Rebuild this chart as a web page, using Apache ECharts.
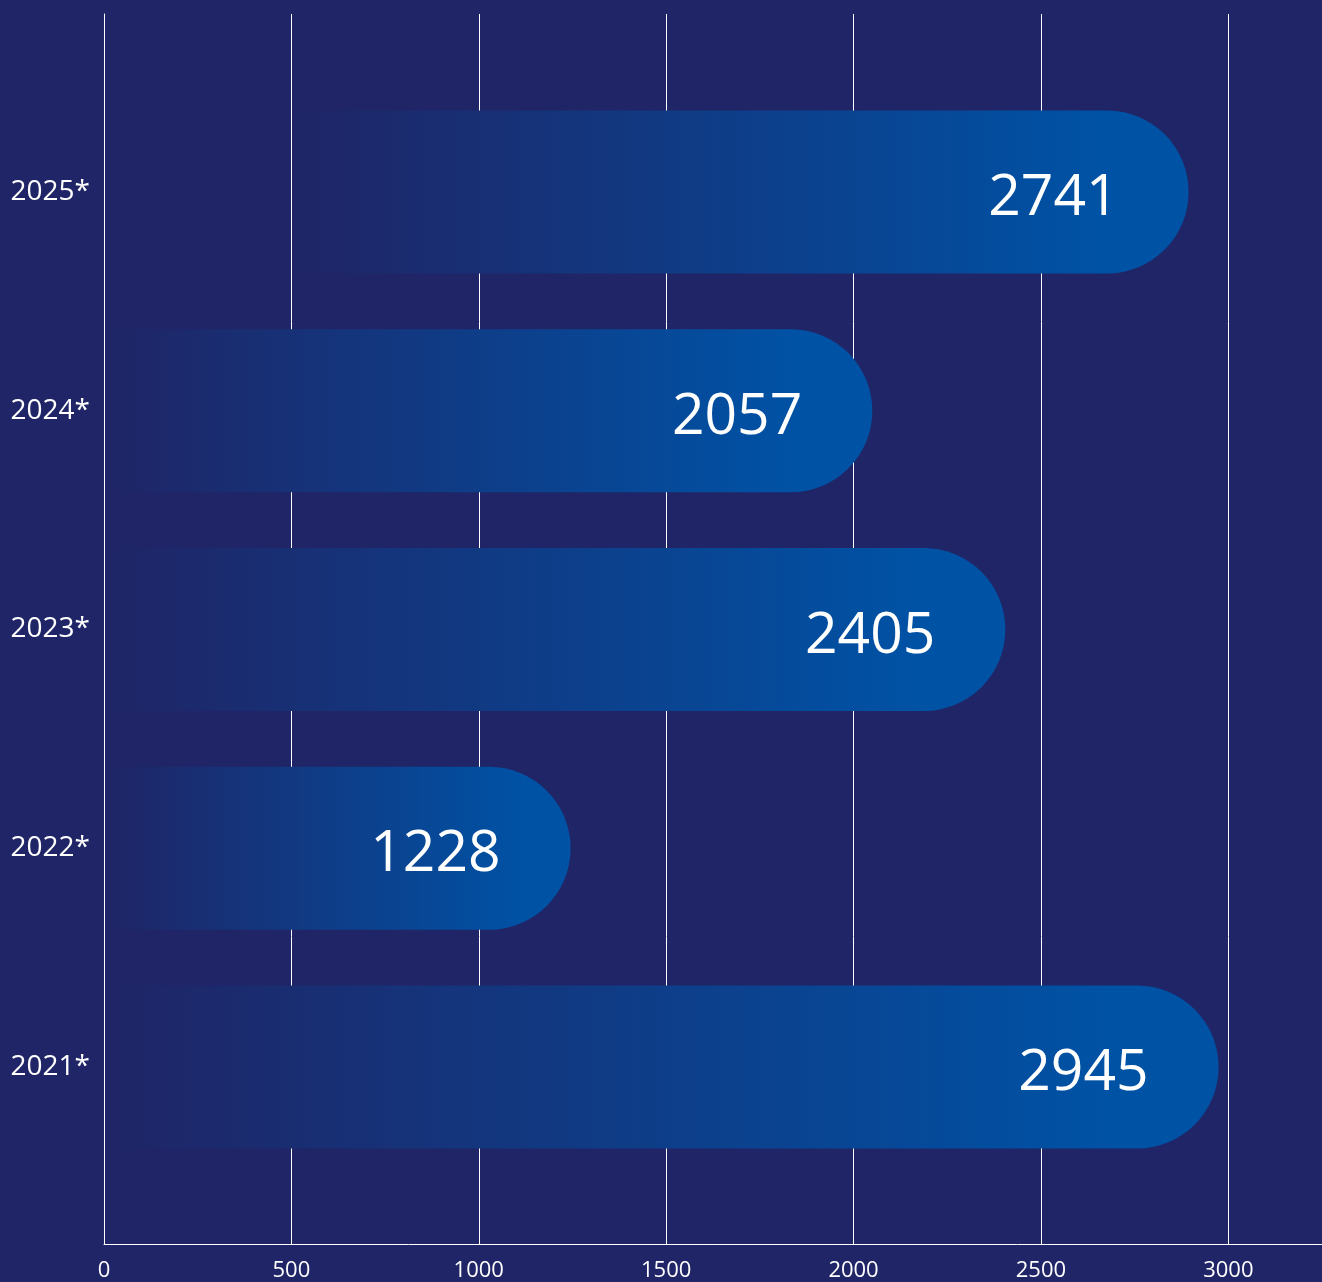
<!DOCTYPE html>
<html>
<head>
<meta charset="utf-8">
<script src="https://cdn.jsdelivr.net/npm/echarts@6/dist/echarts.min.js"></script>
<style>
html,body{margin:0;padding:0;background:#1f2566;}
#chart{width:1322px;height:1282px;}
</style>
</head>
<body>
<div id="chart"></div>
<script>
// Categories, bottom to top
var categories = ['2021*', '2022*', '2023*', '2024*', '2025*'];
// Values printed on the bars
var labelValues = [2945, 1228, 2405, 2057, 2741];
// Bar extents (axis units)
var barStart = [15, 15, 15, 15, 505];
var barEnd = [2974, 1245, 2405, 2050, 2894];
// Axis ticks
var xTicks = [0, 500, 1000, 1500, 2000, 2500, 3000];

var barLength = barEnd.map(function (e, i) { return e - barStart[i]; });

var chart = echarts.init(document.getElementById('chart'));
var fontFam = '"Open Sans", "Noto Sans", sans-serif';
var grad = new echarts.graphic.LinearGradient(0, 0, 1, 0, [
  { offset: 0, color: '#1f2566' },
  { offset: 0.9, color: '#0052a5' },
  { offset: 1, color: '#0052a5' }
]);

chart.setOption({
  backgroundColor: '#1f2566',
  animation: false,
  grid: [
    { left: 104, right: 0, top: 14, bottom: 37 },
    { left: 104, right: 0, top: 82.6, bottom: 105.6 }
  ],
  xAxis: [
    {
      gridIndex: 0, type: 'value', min: 0, max: 3250, interval: 500,
      axisLine: { show: true, lineStyle: { color: '#ffffff', width: 1 } },
      axisTick: { show: false },
      splitLine: { show: true, lineStyle: { color: '#ffffff', width: 1 } },
      axisLabel: {
        color: '#ffffff', fontSize: 22, fontFamily: fontFam, margin: 16,
        showMaxLabel: false,
        formatter: function (v) { return xTicks.indexOf(v) >= 0 ? String(v) : ''; }
      }
    },
    {
      gridIndex: 1, type: 'value', min: 0, max: 3250, interval: 500, show: false
    }
  ],
  yAxis: [
    {
      gridIndex: 0, type: 'value', min: 0, max: 1, z: 10,
      axisLine: { show: true, lineStyle: { color: '#ffffff', width: 1 } },
      axisTick: { show: false }, axisLabel: { show: false }, splitLine: { show: false }
    },
    {
      gridIndex: 1, type: 'category', data: categories,
      axisLine: { show: false }, axisTick: { show: false }, splitLine: { show: false },
      axisLabel: { color: '#ffffff', fontSize: 28, fontFamily: fontFam, margin: 14 }
    }
  ],
  series: [
    {
      type: 'bar', xAxisIndex: 1, yAxisIndex: 1, stack: 'b',
      data: barStart, barWidth: 163, silent: true,
      itemStyle: { color: 'rgba(0,0,0,0)' }, z: 2
    },
    {
      type: 'bar', xAxisIndex: 1, yAxisIndex: 1, stack: 'b',
      data: barLength, barWidth: 163, z: 3,
      itemStyle: { color: grad, borderRadius: [0, 81.5, 81.5, 0] },
      label: {
        show: true, position: 'insideRight', distance: 70,
        color: '#ffffff', fontSize: 57, fontFamily: fontFam, offset: [0, 7],
        formatter: function (p) { return String(labelValues[p.dataIndex]); }
      }
    }
  ]
});
</script>
</body>
</html>
